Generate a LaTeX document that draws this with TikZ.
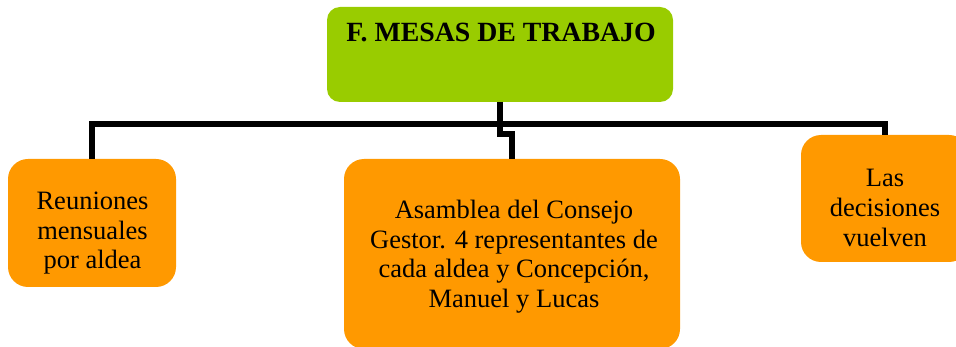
\documentclass[tikz,border=0pt]{standalone}
\usepackage{fontspec}
\setmainfont{Liberation Serif}
\definecolor{topgreen}{HTML}{99CC00}
\definecolor{boxorange}{HTML}{FF9900}
\tikzset{
  boxbase/.style={rectangle, inner sep=0pt, outer sep=0pt},
  topbox/.style={boxbase, fill=topgreen, rounded corners=13pt},
  subbox/.style={boxbase, fill=boxorange, rounded corners=20pt},
  conn/.style={line width=6pt, black, line join=miter, line cap=butt},
  bodytext/.style={inner sep=0pt, anchor=base, font=\fontsize{26.5}{29.8}\selectfont},
  titletext/.style={inner sep=0pt, anchor=base, font=\fontsize{27.8}{30}\selectfont\bfseries},
}
\newcommand{\linesblock}[1]{\begin{tabular}[t]{@{}c@{}}#1\end{tabular}}
\begin{document}
\begin{tikzpicture}[x=1pt,y=-1pt]
\clip (0,0) rectangle (956,347);
\useasboundingbox (0,0) rectangle (956,347);
% boxes
\node[topbox, minimum width=346pt, minimum height=95pt] (top) at (500,54.5) {};
\node[subbox, minimum width=168pt, minimum height=128pt] (left) at (92,223) {};
\node[subbox, minimum width=336pt, minimum height=190pt] (mid) at (512,254) {};
\node[subbox, minimum width=168pt, minimum height=127pt] (right) at (885,198.5) {};
% connectors
\draw[conn] (top.south) -- ++(0,32.5) -| (mid.north);
\draw[conn] (left.north) -- ++(0,-35) -| (right.north);
% texts
\node[titletext] (ttitle) at (501,42) {F. MESAS DE TRABAJO};
\node[bodytext] (tleft) at (92.5,209.3) {\linesblock{Reuniones\\mensuales\\por aldea}};
\node[bodytext] (tmid) at (514,218.3) {\linesblock{Asamblea del Consejo\\Gestor. 4 representantes de\\cada aldea y Concepción,\\Manuel y Lucas}};
\node[bodytext] (tright) at (885,186.7) {\linesblock{Las\\decisiones\\vuelven}};
\end{tikzpicture}
\end{document}
